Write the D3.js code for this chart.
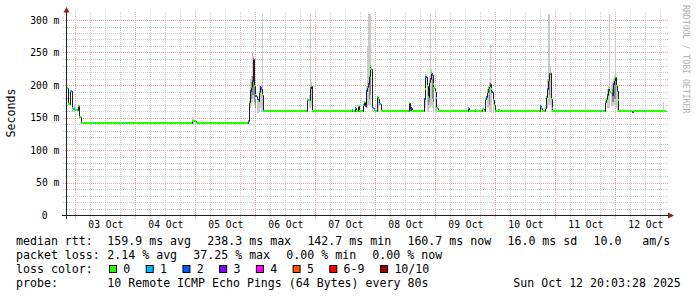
<!DOCTYPE html>
<html>
<head>
<meta charset="utf-8">
<script src="https://cdn.jsdelivr.net/npm/d3@7"></script>
<style>
html, body { margin: 0; padding: 0; background: #fff; }
svg { display: block; font-family: "DejaVu Sans Mono", monospace; }
</style>
</head>
<body>
<svg id="chart" width="697" height="297"></svg>
<script>
// time window: 10 days ending at the graph stamp
var startTime = new Date(2025, 9, 2, 20, 3, 28);
var spanHours = 240;

// median rtt steps (hours from start, ms, lost pings of 10)
var medHours = [0, 0.8, 1.6, 2.4, 3.0, 4.0, 4.8, 5.4, 6.0, 11.6, 12.0, 24.0, 24.6, 25.6, 36.8, 50.4, 52.0, 54.8, 59.6,
	72.8, 73.2, 73.6, 74.0, 74.4, 74.8, 75.2, 75.6, 76.0, 76.4, 76.8, 77.2, 77.6, 78.0, 78.4, 78.8, 79.2,
	96.4, 97.0, 97.6, 98.0, 98.4,
	114.4, 114.8, 115.6, 116.0, 116.8, 117.2, 118.8, 119.2, 119.6, 120.0, 120.4, 120.8, 121.2, 121.6, 122.0, 122.4, 122.8, 123.2, 123.6,
	124.4, 124.8, 125.6, 126.0, 137.2, 137.6, 138.0, 138.4,
	143.2, 143.6, 144.0, 144.4, 144.8, 145.2, 145.6, 146.0, 146.4, 146.8, 147.2, 147.6, 148.0, 148.4, 148.8,
	160.8, 161.2, 163.6, 164.0, 166.8, 167.2, 167.6, 168.0, 168.4, 168.8, 169.2, 169.6, 170.0, 170.4, 170.8, 171.2, 171.6, 172.8, 173.6,
	189.6, 190.0, 190.4, 191.6, 192.0, 192.4, 192.8, 193.2, 193.6, 194.0, 194.4, 194.8, 199.6, 200.0, 213.6, 214.0,
	215.6, 216.0, 216.4, 216.8, 217.2, 217.6, 218.0, 218.4, 218.8, 219.2, 219.6, 220.0, 220.4, 220.8, 221.2,
	226.4, 226.8, 231.2, 231.6];
var medMs = [196, 172, 191, 166, 164, 163, 168, 151, 142.7, 142.7, 142.7, 142.7, 142.7, 141.8, 142.7, 145, 142.7, 141.8, 142.7,
	146, 175, 192, 198, 207, 240, 200, 186, 184, 180, 176, 190, 198, 194, 186, 160.7, 160.7,
	177, 178, 196, 200, 160.7,
	163, 160.7, 165, 160.7, 168, 160.7, 170, 175, 169, 192, 197, 203, 215, 230, 225, 167, 165, 163, 160.7,
	182, 180, 171, 160.7, 173, 163, 165, 160.7,
	180, 195, 213, 200, 182, 205, 210, 220, 216, 202, 196, 190, 181, 166, 160.7,
	166, 160.7, 163, 160.7, 164, 160.7, 180, 182, 190, 196, 200, 203, 195, 190, 177, 170, 160.7, 162, 160.7,
	169, 165, 160.7, 165, 182, 195, 208, 218, 220, 180, 165, 160.7, 160.7, 160.7, 160.7, 160.7,
	175, 180, 186, 193, 196, 190, 188, 185, 203, 208, 213, 200, 192, 178, 160.7,
	159, 160.7, 160.7, 160.7];
var medLoss = [0, 0, 1, 0, 1, 0, 0, 0, 0, 1, 0, 1, 0, 0, 0, 0, 0, 0, 0,
	1, 0, 2, 0, 2, 4, 0, 0, 2, 2, 0, 0, 3, 2, 0, 1, 0,
	1, 0, 2, 0, 0,
	1, 0, 1, 0, 0, 0, 1, 0, 2, 2, 0, 3, 0, 0, 0, 2, 1, 1, 0,
	0, 0, 1, 0, 0, 1, 2, 0,
	2, 0, 2, 0, 0, 0, 3, 0, 2, 0, 0, 0, 1, 0, 0,
	1, 0, 0, 0, 0, 0, 0, 2, 0, 0, 0, 3, 0, 2, 1, 0, 0, 0, 0,
	2, 0, 0, 0, 0, 2, 0, 3, 0, 0, 1, 0, 1, 0, 1, 0,
	0, 0, 2, 3, 0, 0, 0, 2, 3, 0, 0, 0, 2, 0, 0,
	3, 0, 1, 0];

// light smoke: full ping spread per column (hours, min ms, max ms)
var smokeHours = [2.8, 3.2, 3.6, 4.0, 50.4, 50.8, 51.6,
	73.6, 74.0, 74.4, 74.8, 75.2, 75.6, 76.0, 76.4, 76.8, 77.2, 77.6, 78.0, 78.4,
	97.2, 97.6, 98.0,
	120.0, 120.4, 120.8, 121.2, 121.6, 122.0, 122.4, 124.8,
	143.6, 144.0, 144.4, 144.8, 145.2, 145.6, 146.0, 146.4, 146.8, 147.2, 147.6, 148.0,
	168.4, 168.8, 169.2, 169.6, 170.0, 170.4, 170.8,
	192.4, 192.8, 193.2, 193.6, 194.0,
	216.4, 216.8, 217.2, 217.6, 218.0, 218.4, 218.8, 219.2, 219.6, 220.0, 220.4, 238.8];
var smokeLo = [160, 160, 160, 158, 141, 141, 141,
	165, 170, 175, 180, 170, 160, 160, 158, 158, 160, 165, 160, 160,
	165, 165, 170,
	165, 165, 170, 170, 175, 170, 160, 160,
	165, 165, 160, 160, 165, 165, 170, 165, 160, 158, 158, 158,
	165, 165, 160, 160, 160, 158, 158,
	165, 170, 170, 170, 160,
	165, 165, 165, 165, 168, 168, 170, 170, 170, 165, 160, 158];
var smokeHi = [172, 170, 170, 168, 152, 150, 146,
	210, 215, 250, 245, 215, 190, 185, 178, 178, 200, 200, 198, 310,
	185, 310, 205,
	200, 260, 310, 310, 310, 240, 180, 185,
	200, 218, 210, 200, 215, 310, 225, 220, 210, 200, 195, 185,
	195, 200, 205, 263, 200, 195, 185,
	210, 310, 310, 230, 190,
	195, 200, 205, 310, 200, 205, 212, 215, 272, 210, 200, 174];

// dark smoke: inner ping spread
var darkHours = [74.0, 74.4, 74.8, 75.2, 76.0, 121.2, 121.6, 144.8, 145.2, 146.4, 146.8, 169.2, 193.2, 218.4, 218.8, 219.2, 219.6];
var darkLo = [180, 185, 185, 175, 165, 180, 185, 170, 175, 180, 175, 170, 185, 175, 175, 180, 180];
var darkHi = [205, 215, 225, 200, 180, 215, 225, 195, 205, 210, 200, 195, 215, 195, 200, 205, 210];

var lossLabels = ["0", "1", "2", "3", "4", "5", "6-9", "10/10"];
var lossColors = ["#26ff00", "#00b8ff", "#0059ff", "#7e00ff", "#ff00ff", "#ff5500", "#ff0000", "#a10000"];

var yTicks = [0, 50, 100, 150, 200, 250, 300];

// legend statistics, one list per line
var rttStats = ["159.9 ms avg", "238.3 ms max", "142.7 ms min", "160.7 ms now", "16.0 ms sd", "10.0   am/s"];
var lossStats = ["2.14 % avg", "37.25 % max", "0.00 % min", "0.00 % now"];

(function () {
	var svg = d3.select("#chart");
	var hour = 3600 * 1000;
	var endTime = new Date(startTime.getTime() + spanHours * hour);
	var toDate = function (h) { return new Date(startTime.getTime() + h * hour); };

	var x = d3.scaleTime().domain([startTime, endTime]).range([66, 666]);
	var y = d3.scaleLinear().domain([0, 300]).range([215.5, 20.5]);
	var col = function (d) { return Math.floor(x(d)); };
	var row = function (v) { return Math.round(y(v)); };

	var gridCol = "#cfcfcf", mgridCol = "#eba3a3";

	// vertical grid
	var minorTimes = d3.timeHour.every(6).range(startTime, endTime);
	var g = svg.append("g").attr("class", "grid");
	g.selectAll("line.vx").data(minorTimes).enter().append("line")
		.attr("x1", function (d) { return col(d) + 0.5; })
		.attr("x2", function (d) { return col(d) + 0.5; })
		.attr("y1", 12).attr("y2", 219)
		.attr("stroke", function (d) { return d.getHours() === 0 ? mgridCol : gridCol; })
		.attr("stroke-dasharray", "1,1");

	// horizontal grid
	var hVals = d3.range(10, 301, 10);
	g.selectAll("line.hy").data(hVals).enter().append("line")
		.attr("x1", 63).attr("x2", 668)
		.attr("y1", function (d) { return Math.floor(y(d)) + 0.5; })
		.attr("y2", function (d) { return Math.floor(y(d)) + 0.5; })
		.attr("stroke", function (d) { return d % 50 === 0 ? mgridCol : gridCol; })
		.attr("stroke-dasharray", "1,1");

	// smoke
	var smoke = svg.append("g");
	smoke.selectAll("rect.light").data(smokeHours).enter().append("rect")
		.attr("x", function (d) { return col(toDate(d)); })
		.attr("width", 1)
		.attr("y", function (d, i) { return row(smokeHi[i]); })
		.attr("height", function (d, i) { return row(smokeLo[i]) - row(smokeHi[i]); })
		.attr("fill", "#cacaca");
	smoke.selectAll("rect.dark").data(darkHours).enter().append("rect")
		.attr("x", function (d) { return col(toDate(d)); })
		.attr("width", 1)
		.attr("y", function (d, i) { return row(darkHi[i]); })
		.attr("height", function (d, i) { return row(darkLo[i]) - row(darkHi[i]); })
		.attr("fill", "#8a8a8a");

	// median: dark step line, colored loss band on top
	var pts = medHours.map(function (h, i) { return [h, medMs[i]]; });
	pts.push([spanHours, medMs[medMs.length - 1]]);
	var line = d3.line()
		.x(function (d) { return col(toDate(d[0])) + 0.5; })
		.y(function (d) { return row(d[1]) + 0.5; })
		.curve(d3.curveStepAfter);
	svg.append("path").datum(pts)
		.attr("d", line)
		.attr("fill", "none")
		.attr("stroke", "#202020")
		.attr("stroke-width", 1);

	var lossIdx = function (l) { return l >= 10 ? 7 : (l >= 6 ? 6 : l); };
	svg.append("g").selectAll("rect").data(medHours).enter().append("rect")
		.attr("x", function (d) { return col(toDate(d)); })
		.attr("width", function (d, i) {
			var e = i + 1 < medHours.length ? medHours[i + 1] : spanHours;
			return Math.max(1, col(toDate(e)) - col(toDate(d)));
		})
		.attr("y", function (d, i) { return row(medMs[i]) - 1; })
		.attr("height", 2)
		.attr("fill", function (d, i) { return lossColors[lossIdx(medLoss[i])]; });

	// axes
	svg.append("line").attr("x1", 62).attr("x2", 669).attr("y1", 215.5).attr("y2", 215.5)
		.attr("stroke", "#202020");
	svg.append("line").attr("x1", 66.5).attr("x2", 66.5).attr("y1", 219).attr("y2", 11)
		.attr("stroke", "#202020");
	svg.append("path").attr("d", "M63.5,12.5L69.5,12.5L66.5,7Z").attr("fill", "#902020");
	svg.append("path").attr("d", "M668,212.5L668,218.5L674,215.5Z").attr("fill", "#902020");

	// tick labels
	var axisFont = "9.7px";
	svg.append("g").selectAll("text").data(yTicks).enter().append("text")
		.attr("x", function (d) { return d === 0 ? 47.6 : 59.4; })
		.attr("y", function (d) { return y(d); })
		.attr("dy", "0.35em")
		.attr("text-anchor", "end")
		.style("font-size", axisFont)
		.text(function (d) { return d === 0 ? "0" : d + " m"; });

	var noons = d3.timeDay.range(d3.timeDay.floor(startTime), endTime)
		.map(function (d) { return d3.timeHour.offset(d, 12); })
		.filter(function (d) { return d > startTime && d < endTime; });
	svg.append("g").selectAll("text").data(noons).enter().append("text")
		.attr("x", function (d) { return x(d); })
		.attr("y", 228)
		.attr("text-anchor", "middle")
		.style("font-size", axisFont)
		.text(d3.timeFormat("%d %b"));

	// titles
	svg.append("text")
		.attr("transform", "translate(15,113) rotate(-90)")
		.attr("text-anchor", "middle")
		.style("font-size", "11.6px")
		.text("Seconds");
	svg.append("text")
		.attr("transform", "translate(683,5) rotate(90)")
		.attr("text-anchor", "start")
		.attr("fill", "#b0b0b0")
		.style("font-size", "8.2px")
		.text("RRDTOOL / TOBI OETIKER");

	// legend
	var cw = 7.02, gap = 15.8, col2 = 107.3;
	var leg = svg.append("g").style("font-size", "11.6px").attr("xml:space", "preserve");
	var statRow = function (label, items, baseline) {
		leg.append("text").attr("x", 16).attr("y", baseline).text(label);
		var px = col2;
		items.forEach(function (it) {
			leg.append("text").attr("x", px).attr("y", baseline).style("white-space", "pre").text(it);
			px += it.length * cw + gap;
		});
	};
	statRow("median rtt:", rttStats, 245);
	statRow("packet loss:", lossStats, 259);

	leg.append("text").attr("x", 16).attr("y", 273).text("loss color:");
	var bx = 109;
	lossLabels.forEach(function (lbl, i) {
		leg.append("rect").attr("x", bx + 0.5).attr("y", 265.5).attr("width", 7).attr("height", 7)
			.attr("fill", lossColors[i]).attr("stroke", "#000");
		leg.append("text").attr("x", bx + 14.3).attr("y", 273).text(lbl);
		bx = bx + 14.3 + lbl.length * cw + 15.4;
	});
	leg.append("text").attr("x", 16).attr("y", 287).text("probe:");
	leg.append("text").attr("x", col2).attr("y", 287).text("10 Remote ICMP Echo Pings (64 Bytes) every 80s");
	leg.append("text").attr("x", 513.3).attr("y", 287).text("Sun Oct 12 20:03:28 2025");
})();
</script>
</body>
</html>
